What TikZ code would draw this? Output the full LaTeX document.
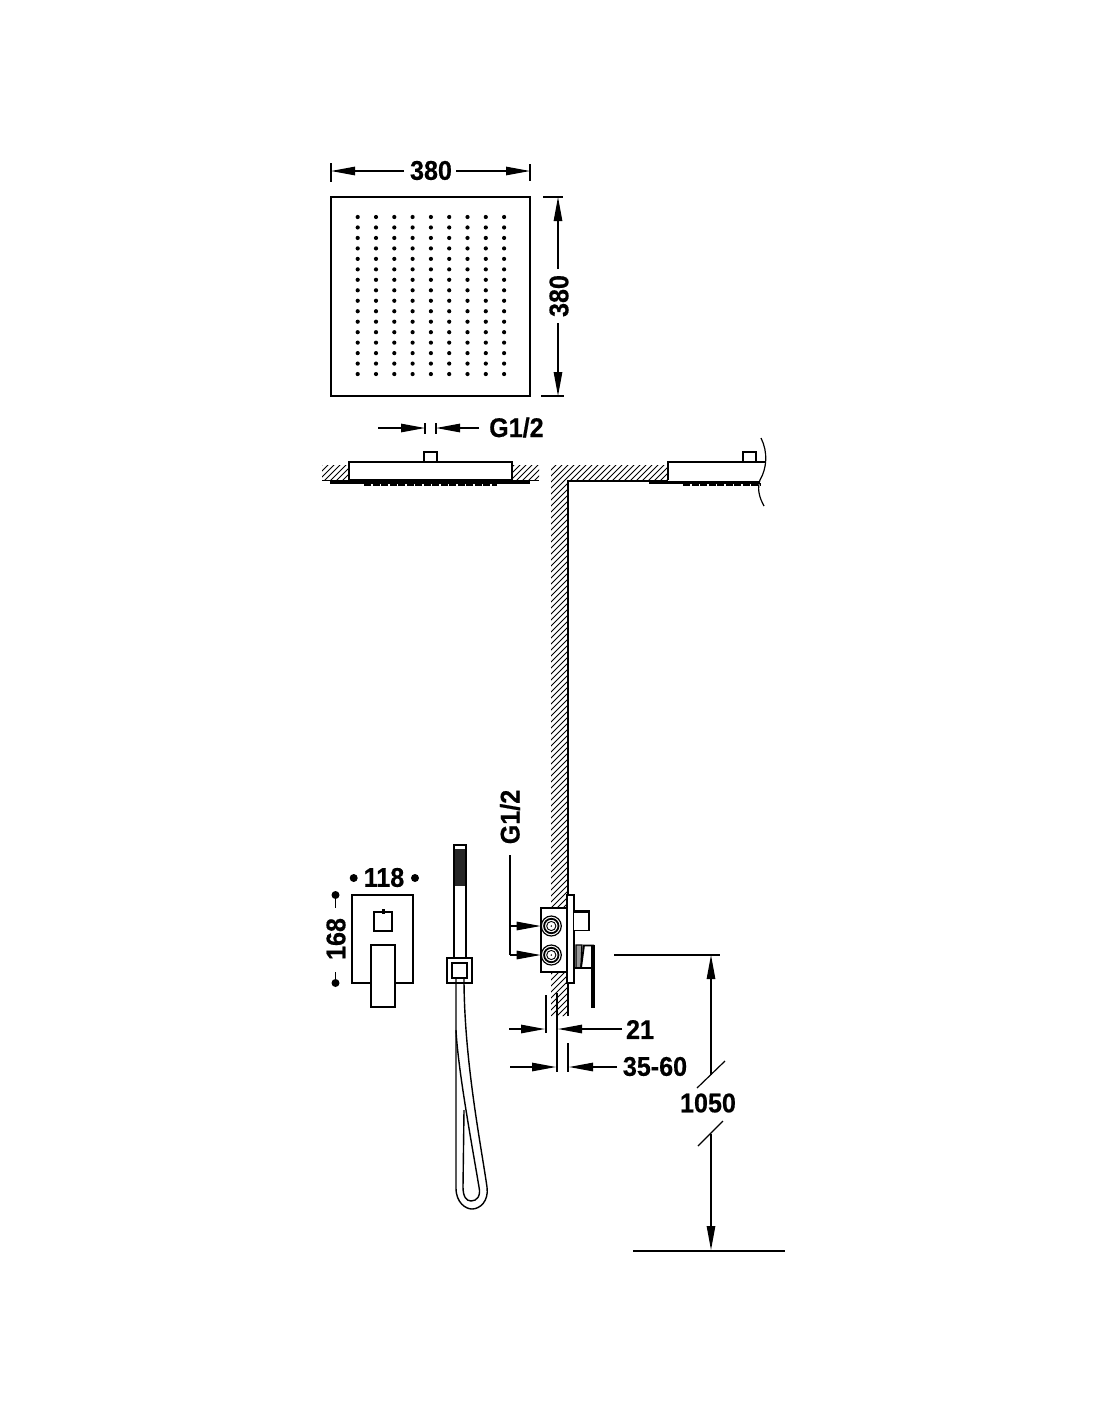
\documentclass[tikz,border=0pt]{standalone}
\usepackage{fontspec}
\setmainfont{Liberation Sans}[FakeStretch=0.93,BoldFeatures={FakeBold=0.5}]
\usetikzlibrary{arrows.meta}
\tikzset{
  part/.style={draw=black,line width=1.8pt,fill=white},
  thin part/.style={draw=black,line width=1.4pt,fill=white},
  dimline/.style={draw=black,line width=1.2pt},
  dimarrow/.style={dimline,-{Triangle[length=24pt,width=8.5pt]}},
  dimtext/.style={font=\bfseries\fontsize{27}{27}\selectfont,inner sep=0pt,text=black},
  hatchline/.style={draw=black,line width=1pt},
  spot/.style={circle,fill=black,inner sep=0pt,minimum size=8pt},
  plate/.style={draw=black,line width=3pt},
  nozzle/.style={draw=black,line width=2.6pt,dash pattern=on 7pt off 1.5pt},
}
\begin{document}
\begin{tikzpicture}[x=1pt,y=-1pt]
\useasboundingbox (0,0) rectangle (1100,1422);
\begin{scope}
\clip (322,465) rectangle (349,480) (512,465) rectangle (539,480)
  (551,465) -- (668,465) -- (668,481) -- (568,481) -- (568,1016) -- (551,1016) -- cycle;
\foreach \c in {787,793,...,1640}
  \draw[hatchline] (\c-460,460) -- (\c-1020,1020);
\end{scope}
% top view
\draw[part,line width=2.2pt] (331,197) rectangle (530,396);
\foreach \i in {0,...,8}
  \foreach \j in {0,...,15}
    \fill (357.7+18.3*\i,217+10.47*\j) circle (2.1);
\node[dimtext] (topw) at (431,170.5) {380};
\node[dimtext,rotate=90] (toph) at (559,296) {380};
\coordinate (topwl) at (331,171);
\coordinate (topwr) at (530,171);
\coordinate (tophu) at (558,197);
\coordinate (tophd) at (558,396);
\draw[dimline] (331,163) -- (331,182);
\draw[dimline] (530,164) -- (530,181);
\draw[dimline] (543,197) -- (563,197);
\draw[dimline] (541,396) -- (564,396);
\draw[dimarrow] (404,171) -- (topwl);
\draw[dimarrow] (456,171) -- (topwr);
\draw[dimarrow] (558,269) -- (tophu);
\draw[dimarrow] (558,323) -- (tophd);
% ceiling, left section
\draw[thin part] (424,452) rectangle (437,462);
\draw[thin part] (349,462) rectangle (512,480);
\draw[thin part] (322,480.5) -- (539,480.5);
\draw[plate] (330,482) -- (530,482);
\draw[nozzle] (364,484.5) -- (497,484.5);
\node[dimtext,anchor=west] (gtop) at (489,427.5) {G1/2};
\coordinate (gtopl) at (425,428);
\coordinate (gtopr) at (436,428);
\draw[dimline] (425,423) -- (425,434);
\draw[dimline] (436,423) -- (436,434);
\draw[dimarrow] (378,428) -- (gtopl);
\draw[dimarrow] (479,428) -- (gtopr);
% ceiling and wall, right section
\draw[thin part] (743,452) rectangle (756,462);
\draw[thin part] (668,480) -- (668,462) -- (765,462);
\draw[thin part,fill=none] (568,1016) -- (568,481) -- (668,481);
\draw[plate] (649,482) -- (760,482);
\draw[nozzle] (683,484.5) -- (760,484.5);
\draw[dimline,line width=1.2pt] (761,438) .. controls (768,452) and (767,468) .. (760,480)
  .. controls (757,488) and (759,497) .. (764,506);
% valve in the wall
\draw[thin part,line width=1.6pt] (541,908) rectangle (567,972);
\draw[part,line width=2pt] (567,895) rectangle (574,983);
\foreach \n/\y in {valvea/926,valveb/955} {
  \node[circle,draw=black,line width=1.2pt,minimum size=20pt,inner sep=0pt,fill=white] (\n) at (551.3,\y) {};
  \draw[line width=1.8pt] (551.3,\y) circle (7.2);
  \draw[line width=.9pt] (551.3,\y) circle (4.6);
  \fill (551.3,\y) circle (.8);
}
\draw[part] (574,912) -- (589,912) -- (589,930.5) -- (574,930.5);
\draw[line width=3pt] (574,911) -- (589.5,911);
\draw[thin part,fill=black!40] (576,945) -- (582,945) -- (581,968) -- (576,968) -- cycle;
\draw[part] (581,968) -- (584,945.5) -- (593,945.5) -- (593,968) -- cycle;
\draw[line width=3.5pt] (593,944.5) -- (593,1008);
\draw[line width=1.8pt] (574,968) -- (593,968);
\draw[dimline] (546,995) -- (546,1033);
\draw[dimline] (557,993) -- (557,1072);
\draw[dimline] (568,1043) -- (568,1072);
% wall dimensions
\node[dimtext,rotate=90] (gwall) at (510,817) {G1/2};
\coordinate (gwalla) at (valvea.west);
\coordinate (gwallb) at (valveb.west);
\draw[dimline] (510,855) -- (510,955);
\draw[dimarrow] (510,926) -- (gwalla);
\draw[dimarrow] (510,955) -- (gwallb);
\node[dimtext] (walla) at (640,1029.5) {21};
\node[dimtext] (wallb) at (655,1066.5) {35-60};
\draw[dimarrow] (509,1029) -- (545,1029);
\draw[dimarrow] (622,1029) -- (558,1029);
\draw[dimarrow] (510,1067) -- (556,1067);
\draw[dimarrow] (617,1067) -- (569,1067);
% trim plate
\draw[part] (352,895) rectangle (413,983);
\draw[part] (374,912) rectangle (392,931);
\draw[line width=3pt] (383,909) -- (383,914);
\draw[part] (371,945) rectangle (395,1007);
\node[dimtext] (platew) at (384,877.5) {118};
\node[spot] (plwl) at (353.7,878) {};
\node[spot] (plwr) at (415,878) {};
\node[dimtext,rotate=90] (plateh) at (336,939) {168};
\node[spot] (plhu) at (335.5,895) {};
\node[spot] (plhd) at (335.5,983) {};
\draw[dimline,line width=1.4pt] (plhu) -- (335.5,908);
\draw[dimline,line width=1.4pt] (plhd) -- (335.5,972);
% hand shower
\draw[thin part] (454,845) rectangle (466,958);
\fill[black!85] (455,849) rectangle (465,886);
\draw[thin part] (447,958) rectangle (472,983);
\draw[part] (452,963) rectangle (467,978);
\draw[thin part,fill=none] (456,978) -- (456,1188) .. controls (456,1203) and (466,1209) .. (472,1209)
  .. controls (480,1209) and (489,1201) .. (487,1187) .. controls (481,1145) and (464,1060) .. (464,978);
\draw[thin part,fill=none] (456,1030) .. controls (458,1070) and (472,1145) .. (479,1187)
  .. controls (481,1196) and (477,1201) .. (471,1201) .. controls (466,1201) and (463,1196) .. (463,1187)
  -- (464,1110);
% height dimension
\coordinate (hup) at (711,955);
\coordinate (hdown) at (711,1250);
\draw[dimline] (614,955) -- (720,955);
\node[dimtext] (hgt) at (708,1103) {1050};
\draw[dimarrow] (711,1075) -- (hup);
\draw[dimarrow] (711,1134) -- (hdown);
\draw[dimline] (697,1088) -- (725,1061);
\draw[dimline] (698,1146) -- (723,1121);
\draw[draw=black,line width=2.2pt] (633,1251) -- (785,1251);
\end{tikzpicture}
\end{document}
